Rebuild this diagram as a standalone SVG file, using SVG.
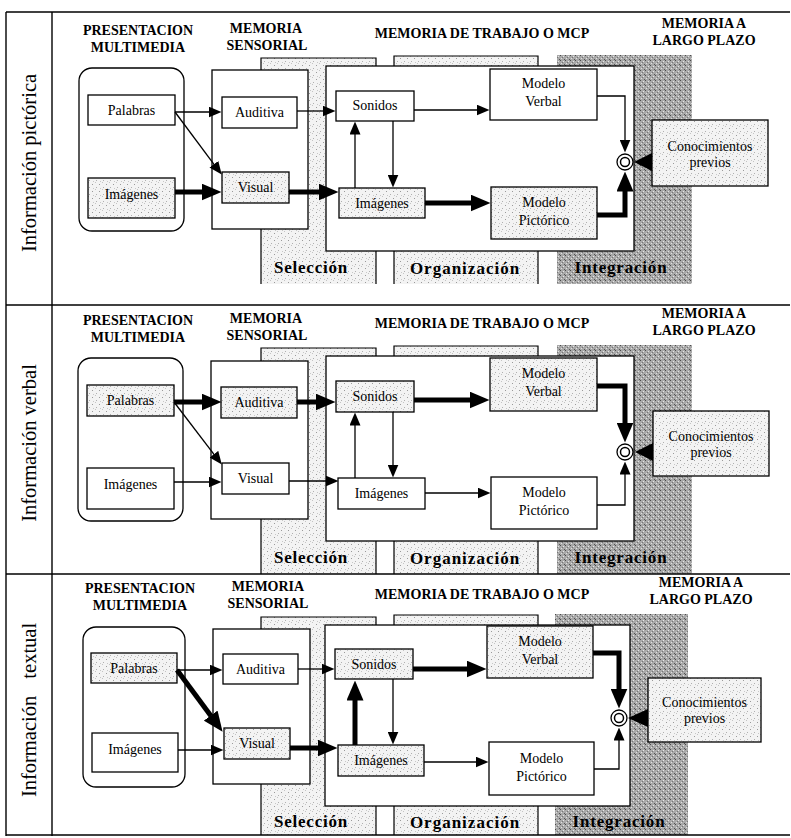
<svg xmlns="http://www.w3.org/2000/svg" width="791" height="838" viewBox="0 0 791 838">
  <defs>
    <style>
      .hdr { font-family: "Liberation Serif", "Times New Roman", serif; font-weight: bold; font-size: 14px; text-anchor: middle; fill: #000; }
      .lbl { font-family: "Liberation Serif", "Times New Roman", serif; font-size: 14px; text-anchor: middle; fill: #000; }
      .stage { font-family: "Liberation Serif", "Times New Roman", serif; font-weight: bold; font-size: 17px; text-anchor: middle; letter-spacing: 0.8px; fill: #000; }
      .side { font-family: "Liberation Serif", "Times New Roman", serif; font-size: 20.5px; text-anchor: middle; fill: #000; }
      .rule { fill: none; stroke: #000; stroke-width: 1.4; }
      .edge { fill: none; stroke: #000; stroke-width: 1.2; }
      .frame { fill: #fff; stroke: #000; stroke-width: 1.3; }
      .box { fill: #fff; stroke: #000; stroke-width: 1.3; }
      .box.hl { fill: url(#stip); }
      .thin { fill: none; stroke: #000; stroke-width: 1.3; marker-end: url(#ah); }
      .thick { fill: none; stroke: #000; stroke-width: 5; stroke-linejoin: miter; marker-end: url(#AH); }
    </style>
    <!-- light stipple used for stage bands and highlighted boxes -->
    <pattern id="stip" width="7" height="7" patternUnits="userSpaceOnUse">
      <rect width="7" height="7" fill="#f3f3f3"/>
      <rect x="1" y="2" width="1" height="1" fill="#9a9a9a"/>
      <rect x="5" y="5" width="1" height="1" fill="#b0b0b0"/>
      <rect x="4" y="0" width="1" height="1" fill="#c4c4c4"/>
      <rect x="2" y="6" width="1" height="1" fill="#c8c8c8"/>
    </pattern>
    <!-- dark stipple used for the integration band -->
    <pattern id="stipDark" width="5" height="5" patternUnits="userSpaceOnUse">
      <rect width="5" height="5" fill="#a9a9a9"/>
      <rect x="0" y="0" width="1" height="1" fill="#4a4a4a"/>
      <rect x="3" y="1" width="1" height="1" fill="#e6e6e6"/>
      <rect x="1" y="3" width="1" height="1" fill="#e0e0e0"/>
      <rect x="4" y="4" width="1" height="1" fill="#555"/>
      <rect x="2" y="2" width="1" height="1" fill="#777"/>
    </pattern>
    <marker id="ah" markerUnits="userSpaceOnUse" markerWidth="13" markerHeight="11" viewBox="0 0 13 11" refX="0.5" refY="5.5" orient="auto">
      <path d="M0,0 L13,5.5 L0,11 z" fill="#000"/>
    </marker>
    <marker id="AH" markerUnits="userSpaceOnUse" markerWidth="20" markerHeight="17" viewBox="0 0 20 17" refX="0.5" refY="8.5" orient="auto">
      <path d="M0,0 L20,8.5 L0,17 z" fill="#000"/>
    </marker>
  </defs>

  <rect width="791" height="838" fill="#fff"/>

  <!-- ================= Panel 1: información pictórica ================= -->
  <g id="panel-pictorica">
    <g id="pictorica-bands">
      <rect x="261" y="58" width="115" height="226" fill="url(#stip)"/>
      <path class="edge" d="M261,284 V58 H376 V284"/>
      <rect x="394" y="56" width="144" height="228" fill="url(#stip)"/>
      <path class="edge" d="M394,284 V56 H538 V284"/>
      <rect x="557" y="55" width="135" height="229" fill="url(#stipDark)"/>
      <text class="stage" x="311" y="273">Selección</text>
      <text class="stage" x="465" y="274" style="letter-spacing:1px">Organización</text>
      <text class="stage" x="621" y="273">Integración</text>
    </g>
    <g id="pictorica-headers">
      <text class="hdr" x="138" y="35">PRESENTACION</text>
      <text class="hdr" x="138" y="52">MULTIMEDIA</text>
      <text class="hdr" x="266" y="33">MEMORIA</text>
      <text class="hdr" x="267" y="50">SENSORIAL</text>
      <text class="hdr" x="482" y="38">MEMORIA DE TRABAJO O MCP</text>
      <text class="hdr" x="704" y="28">MEMORIA A</text>
      <text class="hdr" x="704" y="45">LARGO PLAZO</text>
    </g>
    <text class="side" x="36" y="163" transform="rotate(-90 36 163)">Información pictórica</text>

    <g id="pictorica-presentacion"><rect class="frame" x="79" y="68" width="105" height="163" rx="13"/></g>
    <g id="pictorica-sensorial"><rect class="frame" x="212" y="70" width="96" height="159"/></g>
    <g id="pictorica-trabajo"><rect class="frame" x="326" y="66" width="308" height="185"/></g>

    <g id="pictorica-palabras"><rect class="box" x="88" y="95" width="87" height="30"/><text class="lbl" x="131.5" y="115">Palabras</text></g>
    <g id="pictorica-imagenes"><rect class="box hl" x="88" y="178" width="87" height="40"/><text class="lbl" x="131.5" y="199">Imágenes</text></g>
    <g id="pictorica-auditiva"><rect class="box" x="222" y="97" width="75" height="31"/><text class="lbl" x="259.5" y="117">Auditiva</text></g>
    <g id="pictorica-visual"><rect class="box hl" x="222" y="172" width="67" height="31"/><text class="lbl" x="255.5" y="192">Visual</text></g>
    <g id="pictorica-sonidos"><rect class="box" x="336" y="91" width="78" height="30"/><text class="lbl" x="375" y="110">Sonidos</text></g>
    <g id="pictorica-imagenes-mcp"><rect class="box hl" x="339" y="188" width="86" height="30"/><text class="lbl" x="382" y="208">Imágenes</text></g>
    <g id="pictorica-modelo-verbal"><rect class="box" x="490" y="69" width="107" height="51"/><text class="lbl" x="543.5" y="88">Modelo</text><text class="lbl" x="543.5" y="106">Verbal</text></g>
    <g id="pictorica-modelo-pictorico"><rect class="box hl" x="491" y="187" width="106" height="52"/><text class="lbl" x="544" y="207">Modelo</text><text class="lbl" x="544" y="225">Pictórico</text></g>
    <g id="pictorica-integracion"><circle class="box" cx="625" cy="162" r="8" stroke-width="1.6"/><circle cx="625" cy="162" r="4.5" fill="none" stroke="#000" stroke-width="1.5"/></g>
    <g id="pictorica-conocimientos"><rect class="box hl" x="652" y="120" width="116" height="66"/><text class="lbl" x="710" y="151">Conocimientos</text><text class="lbl" x="710" y="167">previos</text></g>

    <g id="pictorica-connectors">
      <path class="thin" d="M175,112 H209"/>
      <path class="thin" d="M175,112 L214.2,164.6"/>
      <path class="thick" d="M175,192 H202"/>
      <path class="thin" d="M297,111 H323"/>
      <path class="thick" d="M289,192 H319"/>
      <path class="thin" d="M355,188 V134"/>
      <path class="thin" d="M393,121 V175"/>
      <path class="thin" d="M414,110 H477"/>
      <path class="thick" d="M425,203 H471"/>
      <path class="thin" d="M597,96 H625 V140"/>
      <path class="thick" d="M597,215 H625 V191"/>
      <polygon points="652,153 652,171 634,162" fill="#000"/>
    </g>
  </g>

  <!-- ================= Panel 2: información verbal ================= -->
  <g id="panel-verbal" transform="translate(0,290)">
    <g id="verbal-bands">
      <rect x="261" y="58" width="115" height="226" fill="url(#stip)"/>
      <path class="edge" d="M261,284 V58 H376 V284"/>
      <rect x="394" y="56" width="144" height="228" fill="url(#stip)"/>
      <path class="edge" d="M394,284 V56 H538 V284"/>
      <rect x="557" y="55" width="135" height="229" fill="url(#stipDark)"/>
      <text class="stage" x="311" y="273">Selección</text>
      <text class="stage" x="465" y="274" style="letter-spacing:1px">Organización</text>
      <text class="stage" x="621" y="273">Integración</text>
    </g>
    <g id="verbal-headers">
      <text class="hdr" x="138" y="35">PRESENTACION</text>
      <text class="hdr" x="138" y="52">MULTIMEDIA</text>
      <text class="hdr" x="266" y="33">MEMORIA</text>
      <text class="hdr" x="267" y="50">SENSORIAL</text>
      <text class="hdr" x="482" y="38">MEMORIA DE TRABAJO O MCP</text>
      <text class="hdr" x="704" y="28">MEMORIA A</text>
      <text class="hdr" x="704" y="45">LARGO PLAZO</text>
    </g>
    <text class="side" x="36" y="153" transform="rotate(-90 36 153)">Información verbal</text>

    <g id="verbal-presentacion"><rect class="frame" x="78" y="68" width="105" height="163" rx="13"/></g>
    <g id="verbal-sensorial"><rect class="frame" x="211" y="71" width="97" height="158"/></g>
    <g id="verbal-trabajo"><rect class="frame" x="326" y="66" width="308" height="185"/></g>

    <g id="verbal-palabras"><rect class="box hl" x="87" y="95" width="87" height="31"/><text class="lbl" x="130.5" y="115">Palabras</text></g>
    <g id="verbal-imagenes"><rect class="box" x="87" y="178" width="87" height="41"/><text class="lbl" x="130.5" y="199">Imágenes</text></g>
    <g id="verbal-auditiva"><rect class="box hl" x="221" y="97" width="76" height="31"/><text class="lbl" x="259" y="117">Auditiva</text></g>
    <g id="verbal-visual"><rect class="box" x="222" y="173" width="67" height="31"/><text class="lbl" x="255.5" y="193">Visual</text></g>
    <g id="verbal-sonidos"><rect class="box hl" x="336" y="91" width="78" height="31"/><text class="lbl" x="375" y="111">Sonidos</text></g>
    <g id="verbal-imagenes-mcp"><rect class="box" x="338" y="188" width="87" height="31"/><text class="lbl" x="381.5" y="208">Imágenes</text></g>
    <g id="verbal-modelo-verbal"><rect class="box hl" x="490" y="68" width="107" height="53"/><text class="lbl" x="543.5" y="88">Modelo</text><text class="lbl" x="543.5" y="106">Verbal</text></g>
    <g id="verbal-modelo-pictorico"><rect class="box" x="491" y="187" width="106" height="52"/><text class="lbl" x="544" y="207">Modelo</text><text class="lbl" x="544" y="225">Pictórico</text></g>
    <g id="verbal-integracion"><circle class="box" cx="625" cy="162" r="8" stroke-width="1.6"/><circle cx="625" cy="162" r="4.5" fill="none" stroke="#000" stroke-width="1.5"/></g>
    <g id="verbal-conocimientos"><rect class="box hl" x="653" y="121" width="116" height="65"/><text class="lbl" x="711" y="151">Conocimientos</text><text class="lbl" x="711" y="167">previos</text></g>

    <g id="verbal-connectors">
      <path class="thick" d="M174,112 H202"/>
      <path class="thin" d="M174,112 L214.2,164.6"/>
      <path class="thin" d="M174,192 H209"/>
      <path class="thick" d="M297,112 H316"/>
      <path class="thin" d="M289,191 H326"/>
      <path class="thin" d="M355,188 V135"/>
      <path class="thin" d="M393,122 V175"/>
      <path class="thick" d="M414,110 H470"/>
      <path class="thin" d="M425,203 H478"/>
      <path class="thick" d="M597,96 H625 V133"/>
      <path class="thin" d="M597,215 H625 V184"/>
      <polygon points="653,153 653,171 635,162" fill="#000"/>
    </g>
  </g>

  <!-- ================= Panel 3: información textual ================= -->
  <g id="panel-textual" transform="translate(0,559)">
    <g id="textual-bands">
      <rect x="261" y="58" width="115" height="218" fill="url(#stip)"/>
      <path class="edge" d="M261,276 V58 H376 V276"/>
      <rect x="394" y="56" width="144" height="220" fill="url(#stip)"/>
      <path class="edge" d="M394,276 V56 H538 V276"/>
      <rect x="555" y="55" width="133" height="221" fill="url(#stipDark)"/>
      <text class="stage" x="311" y="268">Selección</text>
      <text class="stage" x="465" y="269" style="letter-spacing:1px">Organización</text>
      <text class="stage" x="619" y="268">Integración</text>
    </g>
    <g id="textual-headers">
      <text class="hdr" x="140" y="34">PRESENTACION</text>
      <text class="hdr" x="140" y="51">MULTIMEDIA</text>
      <text class="hdr" x="268" y="32">MEMORIA</text>
      <text class="hdr" x="268" y="49">SENSORIAL</text>
      <text class="hdr" x="482" y="40">MEMORIA DE TRABAJO O MCP</text>
      <text class="hdr" x="701" y="28">MEMORIA A</text>
      <text class="hdr" x="701" y="45">LARGO PLAZO</text>
    </g>
    <text class="side" x="36" y="151" transform="rotate(-90 36 151)" word-spacing="12">Información textual</text>

    <g id="textual-presentacion"><rect class="frame" x="83" y="68" width="102" height="160" rx="13"/></g>
    <g id="textual-sensorial"><rect class="frame" x="213" y="70" width="97" height="155"/></g>
    <g id="textual-trabajo"><rect class="frame" x="325" y="66" width="305" height="181"/></g>

    <g id="textual-palabras"><rect class="box hl" x="91" y="94" width="86" height="30"/><text class="lbl" x="134" y="114">Palabras</text></g>
    <g id="textual-imagenes"><rect class="box" x="92" y="174" width="86" height="39"/><text class="lbl" x="135" y="195">Imágenes</text></g>
    <g id="textual-auditiva"><rect class="box" x="223" y="95" width="75" height="30"/><text class="lbl" x="260.5" y="115">Auditiva</text></g>
    <g id="textual-visual"><rect class="box hl" x="224" y="169" width="66" height="31"/><text class="lbl" x="257" y="189">Visual</text></g>
    <g id="textual-sonidos"><rect class="box hl" x="335" y="90" width="78" height="30"/><text class="lbl" x="374" y="110">Sonidos</text></g>
    <g id="textual-imagenes-mcp"><rect class="box hl" x="338" y="186" width="86" height="31"/><text class="lbl" x="381" y="206">Imágenes</text></g>
    <g id="textual-modelo-verbal"><rect class="box hl" x="487" y="67" width="106" height="52"/><text class="lbl" x="540" y="87">Modelo</text><text class="lbl" x="540" y="105">Verbal</text></g>
    <g id="textual-modelo-pictorico"><rect class="box" x="489" y="183" width="105" height="53"/><text class="lbl" x="541.5" y="204">Modelo</text><text class="lbl" x="541.5" y="222">Pictórico</text></g>
    <g id="textual-integracion"><circle class="box" cx="619" cy="159" r="8" stroke-width="1.6"/><circle cx="619" cy="159" r="4.5" fill="none" stroke="#000" stroke-width="1.5"/></g>
    <g id="textual-conocimientos"><rect class="box hl" x="648" y="119" width="113" height="64"/><text class="lbl" x="704.5" y="148">Conocimientos</text><text class="lbl" x="704.5" y="164">previos</text></g>

    <g id="textual-connectors">
      <path class="thin" d="M177,111 H210"/>
      <path class="thick" d="M177,111 L211,157"/>
      <path class="thin" d="M178,191 H211"/>
      <path class="thin" d="M298,110 H322"/>
      <path class="thick" d="M290,189 H318"/>
      <path class="thick" d="M355,186 V141"/>
      <path class="thin" d="M393,120 V173"/>
      <path class="thick" d="M413,110 H467"/>
      <path class="thin" d="M424,203 H476"/>
      <path class="thick" d="M593,94 H619 V130"/>
      <path class="thin" d="M594,210 H619 V181"/>
      <polygon points="648,150 648,168 628,159" fill="#000"/>
    </g>
  </g>

  <!-- table rules: outer frame, label column and panel dividers -->
  <g id="table-rules">
    <path class="rule" d="M6,12 H790"/>
    <path class="rule" d="M6,12 V836"/>
    <path class="rule" d="M52,12 V836"/>
    <path class="rule" d="M6,305 H790"/>
    <path class="rule" d="M6,574 H790"/>
    <path class="rule" d="M6,835 H790"/>
  </g>
</svg>
